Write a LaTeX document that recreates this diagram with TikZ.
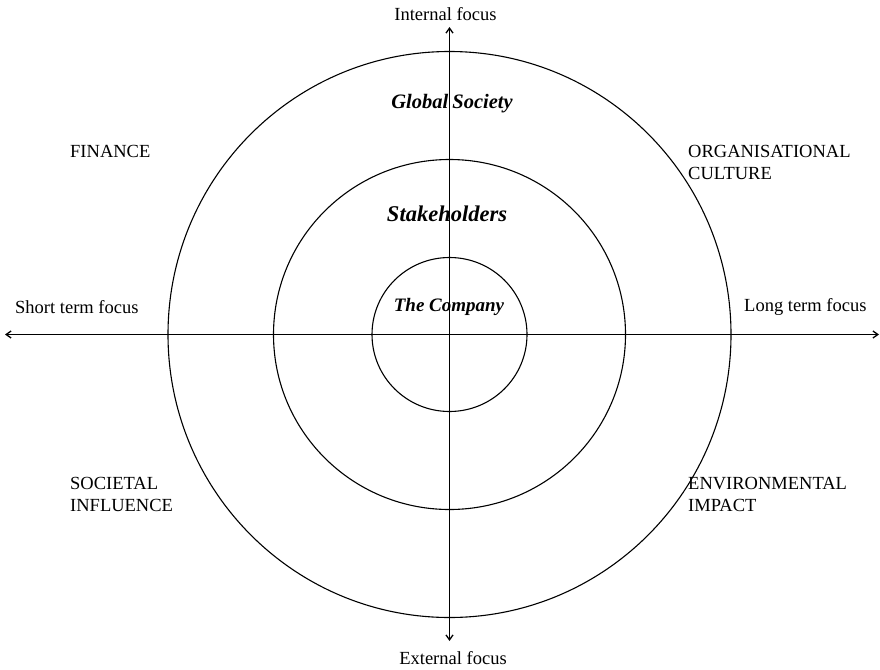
\documentclass[tikz,border=0pt]{standalone}
\usepackage{fontspec}
\setmainfont{Liberation Serif}
\usetikzlibrary{arrows.meta}
\begin{document}
\begin{tikzpicture}[x=1pt,y=-1pt,
  lbl/.style={font=\fontsize{18.5}{22}\selectfont, inner sep=0pt, align=left},
  ring/.style={draw, line width=1.1pt},
  axis/.style={draw, line width=1.3pt, -{Straight Barb[length=5pt,width=7pt]}},
  ital/.style={font=\fontsize{19}{22}\bfseries\itshape\selectfont, inner sep=0pt}]
\useasboundingbox (0,0) rectangle (880,669);
\coordinate (c) at (449.5,334.5);
\coordinate (top) at (449.5,27);
\coordinate (bot) at (449.5,641);
\coordinate (lft) at (5,334.5);
\coordinate (rgt) at (879,334.5);
\draw[ring] (c) ellipse [x radius=281.5, y radius=283];
\draw[ring] (c) ellipse [x radius=176, y radius=175];
\draw[ring] (c) ellipse [x radius=77.5, y radius=77];
\draw[axis] (c) -- (top);
\draw[axis] (c) -- (bot);
\draw[axis] (c) -- (lft);
\draw[axis] (c) -- (rgt);
\node[lbl] (inf) at (445.5,14) {Internal focus};
\node[lbl] (exf) at (453,658) {External focus};
\node[lbl, anchor=west] (stf) at (15,307) {Short term focus};
\node[lbl, anchor=west] (ltf) at (744,307) {Long term focus};
\node[lbl, anchor=west] (fin) at (70,151) {FINANCE};
\node[lbl, anchor=west] (org) at (688,162) {ORGANISATIONAL\\CULTURE};
\node[lbl, anchor=west] (soc) at (70,494) {SOCIETAL\\INFLUENCE};
\node[lbl, anchor=west] (env) at (688,494) {ENVIRONMENTAL\\IMPACT};
\node[ital, font=\fontsize{20.5}{22}\bfseries\itshape\selectfont] (gs) at (452,104) {Global\hspace{-1pt} Society};
\node[ital, font=\fontsize{22.5}{24}\bfseries\itshape\selectfont] (sh) at (447,214) {Stakeholders};
\node[ital] (tc) at (449,307) {The Company};
\end{tikzpicture}
\end{document}
